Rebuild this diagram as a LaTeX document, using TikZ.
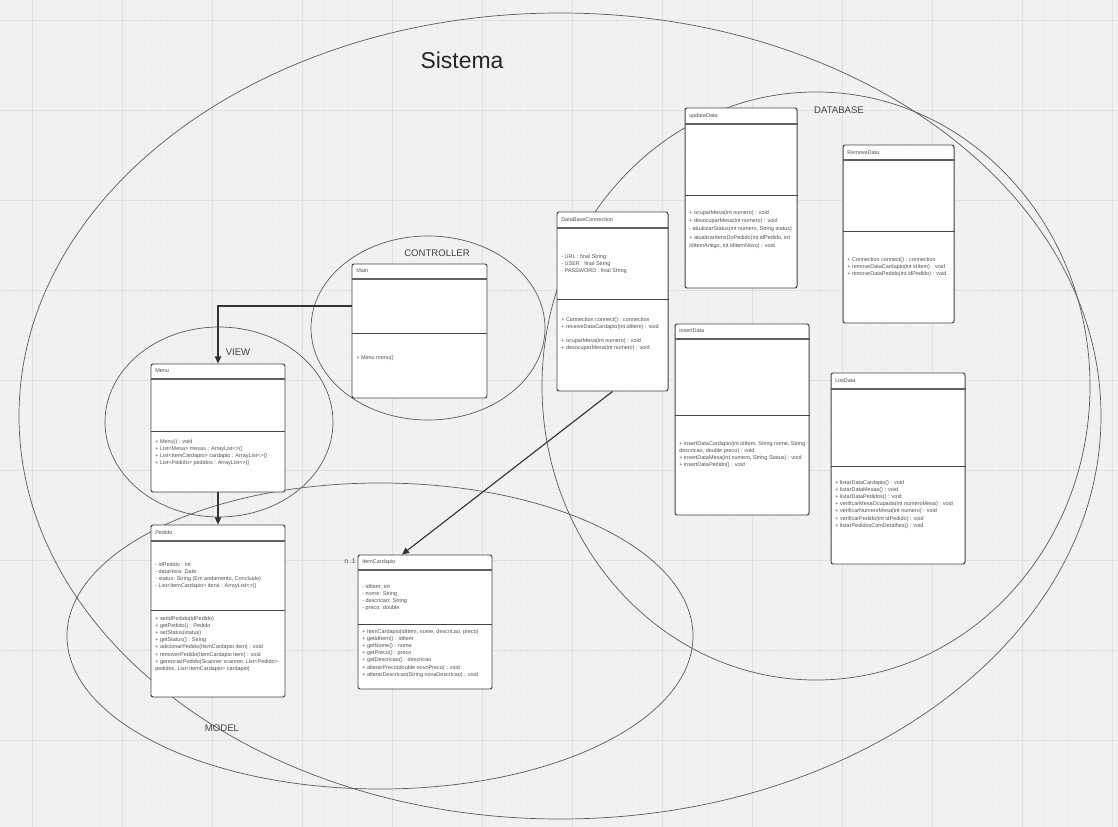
\documentclass[tikz,border=0pt]{standalone}
\usepackage{fontspec}
\setmainfont{Liberation Sans}
\usepackage{xcolor}
\usetikzlibrary{arrows.meta, positioning, fit}

\definecolor{gridbg}{HTML}{F1F1F1}
\definecolor{gridmajor}{HTML}{E0E0E0}
\definecolor{gridminor}{HTML}{EDEDED}
\definecolor{boxline}{HTML}{444444}
\definecolor{ovalline}{HTML}{5A5A5A}
\definecolor{txtgray}{HTML}{505050}

\tikzset{
  classbox/.style={draw=boxline, fill=white, rounded corners=1.5pt, line width=0.7pt, inner sep=0pt},
  headline/.style={draw=boxline!85, line width=1pt},
  divline/.style={draw=boxline, line width=0.6pt},
  classtitle/.style={anchor=west, inner sep=0pt, font=\fontsize{3.9}{5}\selectfont, text=txtgray},
  members/.style={anchor=north west, inner sep=0pt, align=left, font=\fontsize{3.9}{5.1}\selectfont, text=txtgray},
  area/.style={draw=ovalline, line width=0.5pt},
  arealabel/.style={font=\fontsize{6.8}{8}\selectfont, text=black!75},
  link/.style={draw=black!80, line width=0.8pt, -{Triangle[length=5pt,width=4.5pt]}},
}

\begin{document}
\begin{tikzpicture}[x=0.025cm, y=-0.025cm]
\useasboundingbox (0,0) rectangle (1118,827);

% grid background
\fill[gridbg] (0,0) rectangle (1118,827);
\foreach \k in {0,...,49}
  \draw[gridminor, line width=0.3pt] ({9.5+22.5*\k},0) -- ({9.5+22.5*\k},827);
\foreach \k in {0,...,37}
  \draw[gridminor, line width=0.3pt] (0,{-2.5+22.5*\k}) -- (1118,{-2.5+22.5*\k});
\foreach \k in {0,...,12}
  \draw[gridmajor, line width=0.6pt] ({32+90*\k},0) -- ({32+90*\k},827);
\foreach \k in {0,...,9}
  \draw[gridmajor, line width=0.6pt] (0,{20+90*\k}) -- (1118,{20+90*\k});

% packages
\draw[area] (560,416) ellipse [x radius=541, y radius=403];
\draw[area] (816,386) ellipse [x radius=274, y radius=294];
\draw[area] (428,328) ellipse [x radius=117, y radius=92];
\draw[area] (219,422) ellipse [x radius=114, y radius=95];
\draw[area] (380,636) ellipse [x radius=313, y radius=153];

\node[font=\fontsize{16.3}{18}\selectfont, text=black!85] (sistema) at (462,60) {Sistema};
\node[arealabel] (dblabel) at (839,110) {DATABASE};
\node[arealabel] (ctrllabel) at (437,253) {CONTROLLER};
\node[arealabel] (viewlabel) at (238,352) {VIEW};
\node[arealabel] (modellabel) at (222,728) {MODEL};

% updateData
\node[classbox, fit={(685,108) (797,288)}] (update) {};
\draw[headline] (update.west |- 0,124) -- (update.east |- 0,124);
\draw[divline] (update.west |- 0,195) -- (update.east |- 0,195);
\node[classtitle] (update-title) at (689,116) {updateData};
\node[members, font=\fontsize{3.9}{5.9}\selectfont] (update-ops) at (689,210) {+ ocuparMesa(int numero) : void\\+ desocuparMesa(int numero) : void\\- atualizarStatus(int numero, String status)\\+ atualizarItensDoPedido(int idPedido, int\\idItemAntigo, int idItemNovo) : void};

% RemoveData
\node[classbox, fit={(843,145) (954,323)}] (remove) {};
\draw[headline] (remove.west |- 0,160) -- (remove.east |- 0,160);
\draw[divline] (remove.west |- 0,231) -- (remove.east |- 0,231);
\node[classtitle] (remove-title) at (847,153) {RemoveData};
\node[members] (remove-ops) at (847,257) {+ Connection connect() : connection\\+ removeDataCardapio(int idItem) : void\\+ removeDataPedido(int idPedido) : void};

% DataBaseConnection
\node[classbox, fit={(557,212) (668,391)}] (dbconn) {};
\draw[headline] (dbconn.west |- 0,228) -- (dbconn.east |- 0,228);
\draw[divline] (dbconn.west |- 0,299) -- (dbconn.east |- 0,299);
\node[classtitle] (dbconn-title) at (561,220) {DataBaseConnection};
\node[members] (dbconn-attr) at (561,254) {- URL : final String\\- USER : final String\\- PASSWORD : final String};
\node[members] (dbconn-ops) at (561,317) {+ Connection connect() : connection\\+ receiveDataCardapio(int idItem) : void\\ \\+ ocuparMesa(int numero) : void\\+ desocuparMesa(int numero) : void};

% Main
\node[classbox, fit={(352,264) (487,398)}] (main) {};
\draw[headline] (main.west |- 0,279) -- (main.east |- 0,279);
\draw[divline] (main.west |- 0,333) -- (main.east |- 0,333);
\node[classtitle] (main-title) at (356,271) {Main};
\node[members] (main-ops) at (356,355) {+ Menu menu()};

% Menu
\node[classbox, fit={(151,364) (285,492)}] (menu) {};
\draw[headline] (menu.west |- 0,379) -- (menu.east |- 0,379);
\draw[divline] (menu.west |- 0,431) -- (menu.east |- 0,431);
\node[classtitle] (menu-title) at (155,371) {Menu};
\node[members] (menu-ops) at (155,439) {+ Menu() : void\\+ List<Mesa> mesas : ArrayList<>()\\+ List<ItemCardapio> cardapio : ArrayList<>()\\+ List<Pedido> pedidos : ArrayList<>()};

% Pedido
\node[classbox, fit={(151,525) (285,697)}] (pedido) {};
\draw[headline] (pedido.west |- 0,541) -- (pedido.east |- 0,541);
\draw[divline] (pedido.west |- 0,610) -- (pedido.east |- 0,610);
\node[classtitle] (pedido-title) at (155,533) {Pedido};
\node[members] (pedido-attr) at (155,562) {- idPedido : int\\- dataHora: Date\\- status: String (Em andamento, Concluido)\\- List<ItemCardapio> itens : ArrayList<>()};
\node[members] (pedido-ops) at (155,616) {+ setIdPedido(idPedido)\\+ getPedido() : Pedido\\+ setStatus(status)\\+ getStatus() : String\\+ adicionarPedido(ItemCardapio item) : void\\+ removerPedido(ItemCardapio item) : void\\+ gerenciarPedido(Scanner scanner, List<Pedido>\\pedidos, List<ItemCardapio> cardapio)};

% ItemCardapio
\node[classbox, fit={(358,555) (492,689)}] (item) {};
\draw[headline] (item.west |- 0,570) -- (item.east |- 0,570);
\draw[divline] (item.west |- 0,624) -- (item.east |- 0,624);
\node[classtitle] (item-title) at (362,562) {ItemCardapio};
\node[members] (item-attr) at (362,584) {- idItem: int\\- nome: String\\- descricao: String\\- preco: double};
\node[members] (item-ops) at (362,629) {+ ItemCardapio(idItem, nome, descricao, preco)\\+ getIdItem() : idItem\\+ getNome() : nome\\+ getPreco() : preco\\+ getDescricao() : descricao\\+ alterarPreco(double novoPreco) : void\\+ alterarDescricao(String novaDescricao) : void};

% insertData
\node[classbox, fit={(675,324) (809,515)}] (insert) {};
\draw[headline] (insert.west |- 0,339) -- (insert.east |- 0,339);
\draw[divline] (insert.west |- 0,415) -- (insert.east |- 0,415);
\node[classtitle] (insert-title) at (679,331) {insertData};
\node[members] (insert-ops) at (679,441) {+ insertDataCardapio(int idItem, String nome, String\\descricao, double preco) : void\\+ insertDataMesa(int numero, String Status) : void\\+ insertDataPedido() : void};

% ListData
\node[classbox, fit={(831,373) (965,564)}] (listdata) {};
\draw[headline] (listdata.west |- 0,389) -- (listdata.east |- 0,389);
\draw[divline] (listdata.west |- 0,466) -- (listdata.east |- 0,466);
\node[classtitle] (listdata-title) at (835,381) {ListData};
\node[members] (listdata-ops) at (835,480) {+ listarDataCardapio() : void\\+ listarDataMesas() : void\\+ listarDataPedidos() : void\\+ verificarMesaOcupada(int numeroMesa) : void\\+ verificarNumeroMesa(int numero) : void\\+ verificarPedido(int idPedido) : void\\+ listarPedidosComDetalhes() : void};

% connectors
\draw[link] (main.west |- 0,306) -| (menu.north);
\draw[link] (menu.south) -- (pedido.north);
\draw[link] (dbconn.south) -- (item.north -| 402,0);
\node[font=\fontsize{4.8}{6}\selectfont, text=black!70] (mult) at (350,561) {n..1};
\end{tikzpicture}
\end{document}
